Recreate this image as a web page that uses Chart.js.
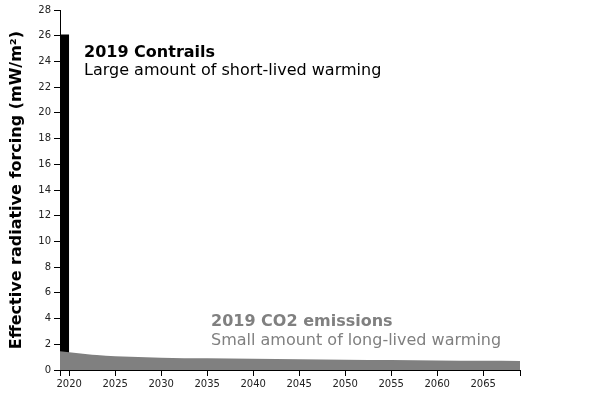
<!DOCTYPE html>
<html>
<head>
<meta charset="utf-8">
<script src="https://cdn.jsdelivr.net/npm/chart.js@4/dist/chart.umd.min.js"></script>
<style>
  html, body { margin: 0; padding: 0; background: #fff; }
  #wrap { width: 600px; height: 400px; }
</style>
</head>
<body>
<div id="wrap"><canvas id="forcing" width="600" height="400"></canvas></div>
<script>
// datos
const contrailYears = [2019, 2020];
const contrailValues = [26.1, 26.1];

const co2Years = [2019, 2020, 2021, 2022, 2023, 2025, 2030, 2035, 2040, 2045, 2050, 2055, 2060, 2065, 2069];
const co2Values = [1.46, 1.38, 1.30, 1.23, 1.17, 1.07, 0.96, 0.91, 0.87, 0.83, 0.80, 0.77, 0.74, 0.72, 0.70];

const xTickLabels = [2020, 2025, 2030, 2035, 2040, 2045, 2050, 2055, 2060, 2065];
const xBounds = [2019, 2069];
const yTicks = [0, 2, 4, 6, 8, 10, 12, 14, 16, 18, 20, 22, 24, 26, 28];

const FONT = "'DejaVu Sans', Verdana, sans-serif";

/**
 * Textos de anotación sobre el área del gráfico
 */
const notesPlugin = {
    id: 'notes',
    afterDraw(chart) {
        const ctx = chart.ctx;
        ctx.save();
        ctx.textAlign = 'left';
        ctx.textBaseline = 'alphabetic';

        ctx.fillStyle = '#000';
        ctx.font = 'bold 16px ' + FONT;
        ctx.fillText('2019 Contrails', 84, 57);
        ctx.font = '16px ' + FONT;
        ctx.fillText('Large amount of short-lived warming', 84, 75);

        ctx.fillStyle = '#808080';
        ctx.font = 'bold 16px ' + FONT;
        ctx.fillText('2019 CO2 emissions', 211, 326);
        ctx.font = '16px ' + FONT;
        ctx.fillText('Small amount of long-lived warming', 211, 345);
        ctx.restore();
    }
};

const toPoints = (xs, ys) => xs.map((x, i) => ({ x: x, y: ys[i] }));

new Chart(document.getElementById('forcing'), {
    type: 'line',
    data: {
        datasets: [
            {
                label: '2019 CO2 emissions',
                data: toPoints(co2Years, co2Values),
                fill: 'origin',
                backgroundColor: '#808080',
                borderColor: '#808080',
                borderWidth: 0,
                pointRadius: 0,
                cubicInterpolationMode: 'monotone',
                order: 1
            },
            {
                label: '2019 Contrails',
                data: toPoints(contrailYears, contrailValues),
                fill: 'origin',
                backgroundColor: '#000',
                borderColor: '#000',
                borderWidth: 0,
                pointRadius: 0,
                order: 2
            }
        ]
    },
    options: {
        responsive: false,
        animation: false,
        layout: { padding: { top: 10, right: 80, left: 0, bottom: 0 } },
        plugins: {
            legend: { display: false },
            tooltip: { enabled: false }
        },
        scales: {
            x: {
                type: 'linear',
                min: xBounds[0],
                max: xBounds[1],
                afterBuildTicks: (scale) => {
                    const vals = [xBounds[0], ...xTickLabels, xBounds[1]];
                    scale.ticks = vals.map(v => ({ value: v }));
                },
                afterFit: (scale) => { scale.height = 30; },
                grid: {
                    drawOnChartArea: false,
                    drawTicks: true,
                    tickLength: 6,
                    color: '#000'
                },
                border: { color: '#000', width: 1 },
                ticks: {
                    autoSkip: false,
                    maxRotation: 0,
                    padding: 2,
                    color: '#222',
                    font: { family: FONT, size: 10 },
                    callback: (v) => xTickLabels.includes(v) ? String(v) : ''
                }
            },
            y: {
                min: yTicks[0],
                max: yTicks[yTicks.length - 1],
                afterBuildTicks: (scale) => {
                    scale.ticks = yTicks.map(v => ({ value: v }));
                },
                afterFit: (scale) => { scale.width = 60; },
                grid: {
                    drawOnChartArea: false,
                    drawTicks: true,
                    tickLength: 6,
                    color: '#000'
                },
                border: { color: '#000', width: 1 },
                ticks: {
                    padding: 3,
                    color: '#222',
                    font: { family: FONT, size: 10 },
                    callback: (v) => String(v)
                },
                title: {
                    display: true,
                    text: 'Effective radiative forcing (mW/m²)',
                    color: '#000',
                    font: { family: FONT, size: 16, weight: 'bold' },
                    padding: { top: 7, bottom: 0 }
                }
            }
        }
    },
    plugins: [notesPlugin]
});
</script>
</body>
</html>
